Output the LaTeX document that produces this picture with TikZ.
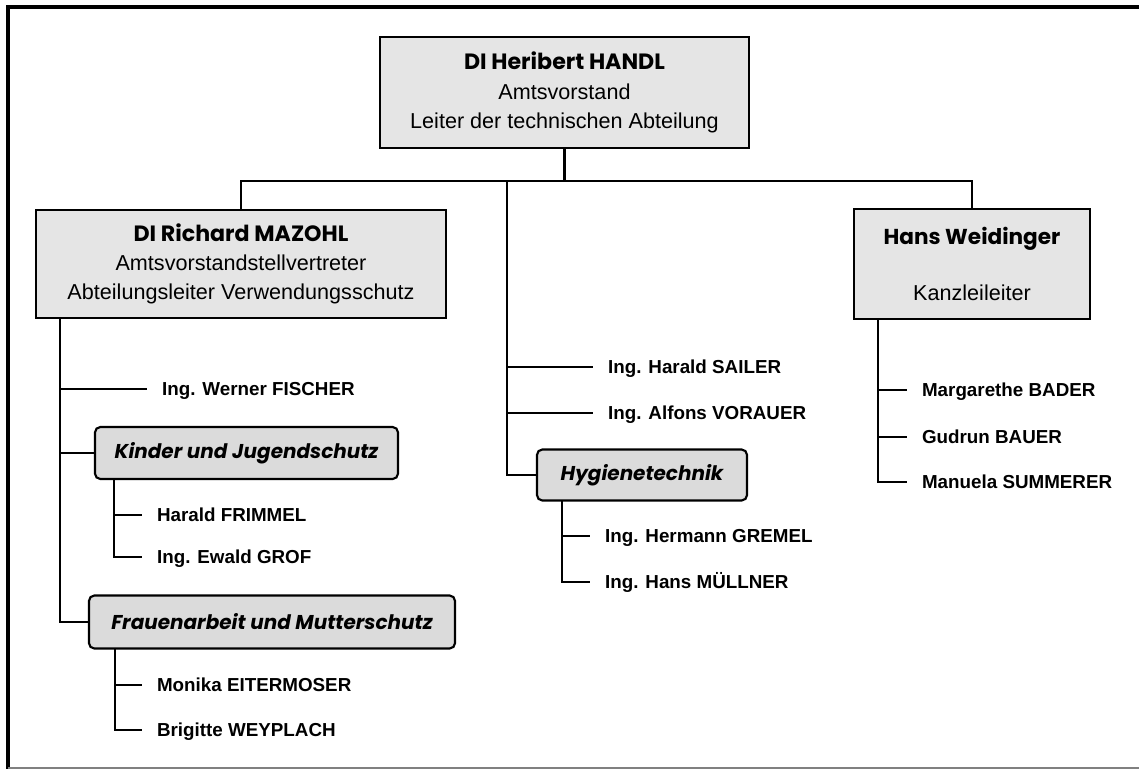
\documentclass[tikz,border=0pt]{standalone}
\usepackage{fontspec}
\setmainfont{Liberation Sans}
\newfontfamily\headfont{Poppins}
\begin{document}
\begin{tikzpicture}[x=0.75pt,y=-0.75pt,line width=1.6pt,
  box/.style={draw,fill=boxgray,align=center,inner sep=0pt,font=\fontsize{16.2}{22}\selectfont},
  group/.style={draw,fill=groupgray,rounded corners=4pt,inner sep=0pt,font=\headfont\bfseries\itshape\fontsize{15}{18}\selectfont},
  person/.style={anchor=west,inner xsep=10.5pt,inner ysep=0pt,text height=10.2pt,text depth=0pt,font=\bfseries\fontsize{14.1}{16}\selectfont}]
\definecolor{boxgray}{gray}{0.9}
\definecolor{groupgray}{gray}{0.86}
\useasboundingbox (0,0) rectangle (1139,769);
\draw[line width=3pt] (6,6.5) -- (1139,6.5);
\draw[line width=3pt] (8,5) -- (8,769);
\draw[color=gray,line width=1.5pt] (8,767.5) -- (1139,767.5);
\node (chef) at (564.5,92.5) [box,minimum width=276.75pt,minimum height=83.25pt] {{\headfont\bfseries\fontsize{16.6}{22}\selectfont DI Heribert HANDL}\\Amtsvorstand\\Leiter der technischen Abteilung};
\node (mazohl) at (241,264) [box,minimum width=307.5pt,minimum height=81pt] {{\headfont\bfseries\fontsize{16.6}{22}\selectfont DI Richard MAZOHL}\\Amtsvorstandstellvertreter\\Abteilungsleiter Verwendungsschutz};
\node (weid) at (972,264) [box,minimum width=177pt,minimum height=82.5pt] {{\headfont\bfseries\fontsize{16.2}{22}\selectfont Hans Weidinger}\\[20pt]Kanzleileiter};
\node (kinder) at (246.5,453) [group,minimum width=227.25pt,minimum height=39pt] {Kinder und Jugendschutz};
\node (frauen) at (272,622) [group,minimum width=274.5pt,minimum height=39.75pt] {Frauenarbeit und Mutterschutz};
\node (hyg) at (642,475) [group,minimum width=157.5pt,minimum height=38.25pt] {Hygienetechnik};
\node (fischer) at (147,389) [person] {Ing. Werner FISCHER};
\node (frimmel) at (142,515) [person] {Harald FRIMMEL};
\node (grof) at (142,557) [person] {Ing. Ewald GROF};
\node (monika) at (142,685) [person] {Monika EITERMOSER};
\node (brigitte) at (142,730) [person] {Brigitte WEYPLACH};
\node (sailer) at (593,367) [person] {Ing. Harald SAILER};
\node (vorauer) at (593,413) [person] {Ing. Alfons VORAUER};
\node (gremel) at (590,536) [person] {Ing. Hermann GREMEL};
\node (muellner) at (590,582) [person] {Ing. Hans MÜLLNER};
\node (bader) at (907,390) [person] {Margarethe BADER};
\node (bauer) at (907,437) [person] {Gudrun BAUER};
\node (summerer) at (907,482) [person] {Manuela SUMMERER};
\coordinate (bus) at (564.5,181);
\coordinate (midtop) at (507,181);
\coordinate (lstem) at (60,318);
\coordinate (kstem) at (114,479);
\coordinate (fstem) at (115,648);
\coordinate (hstem) at (562,501);
\coordinate (wstem) at (878,319);
\draw (chef.south) -- (bus);
\draw (mazohl.north) -- (mazohl.north |- bus) -| (weid.north);
\draw (midtop) |- (hyg.west);
\draw (sailer.west -| midtop) -- (sailer.west);
\draw (vorauer.west -| midtop) -- (vorauer.west);
\draw (lstem) |- (frauen.west);
\draw (fischer.west -| lstem) -- (fischer.west);
\draw (kinder.west -| lstem) -- (kinder.west);
\draw (kstem) |- (grof.west);
\draw (frimmel.west -| kstem) -- (frimmel.west);
\draw (fstem) |- (brigitte.west);
\draw (monika.west -| fstem) -- (monika.west);
\draw (hstem) |- (muellner.west);
\draw (gremel.west -| hstem) -- (gremel.west);
\draw (wstem) |- (summerer.west);
\draw (bader.west -| wstem) -- (bader.west);
\draw (bauer.west -| wstem) -- (bauer.west);
\end{tikzpicture}
\end{document}
